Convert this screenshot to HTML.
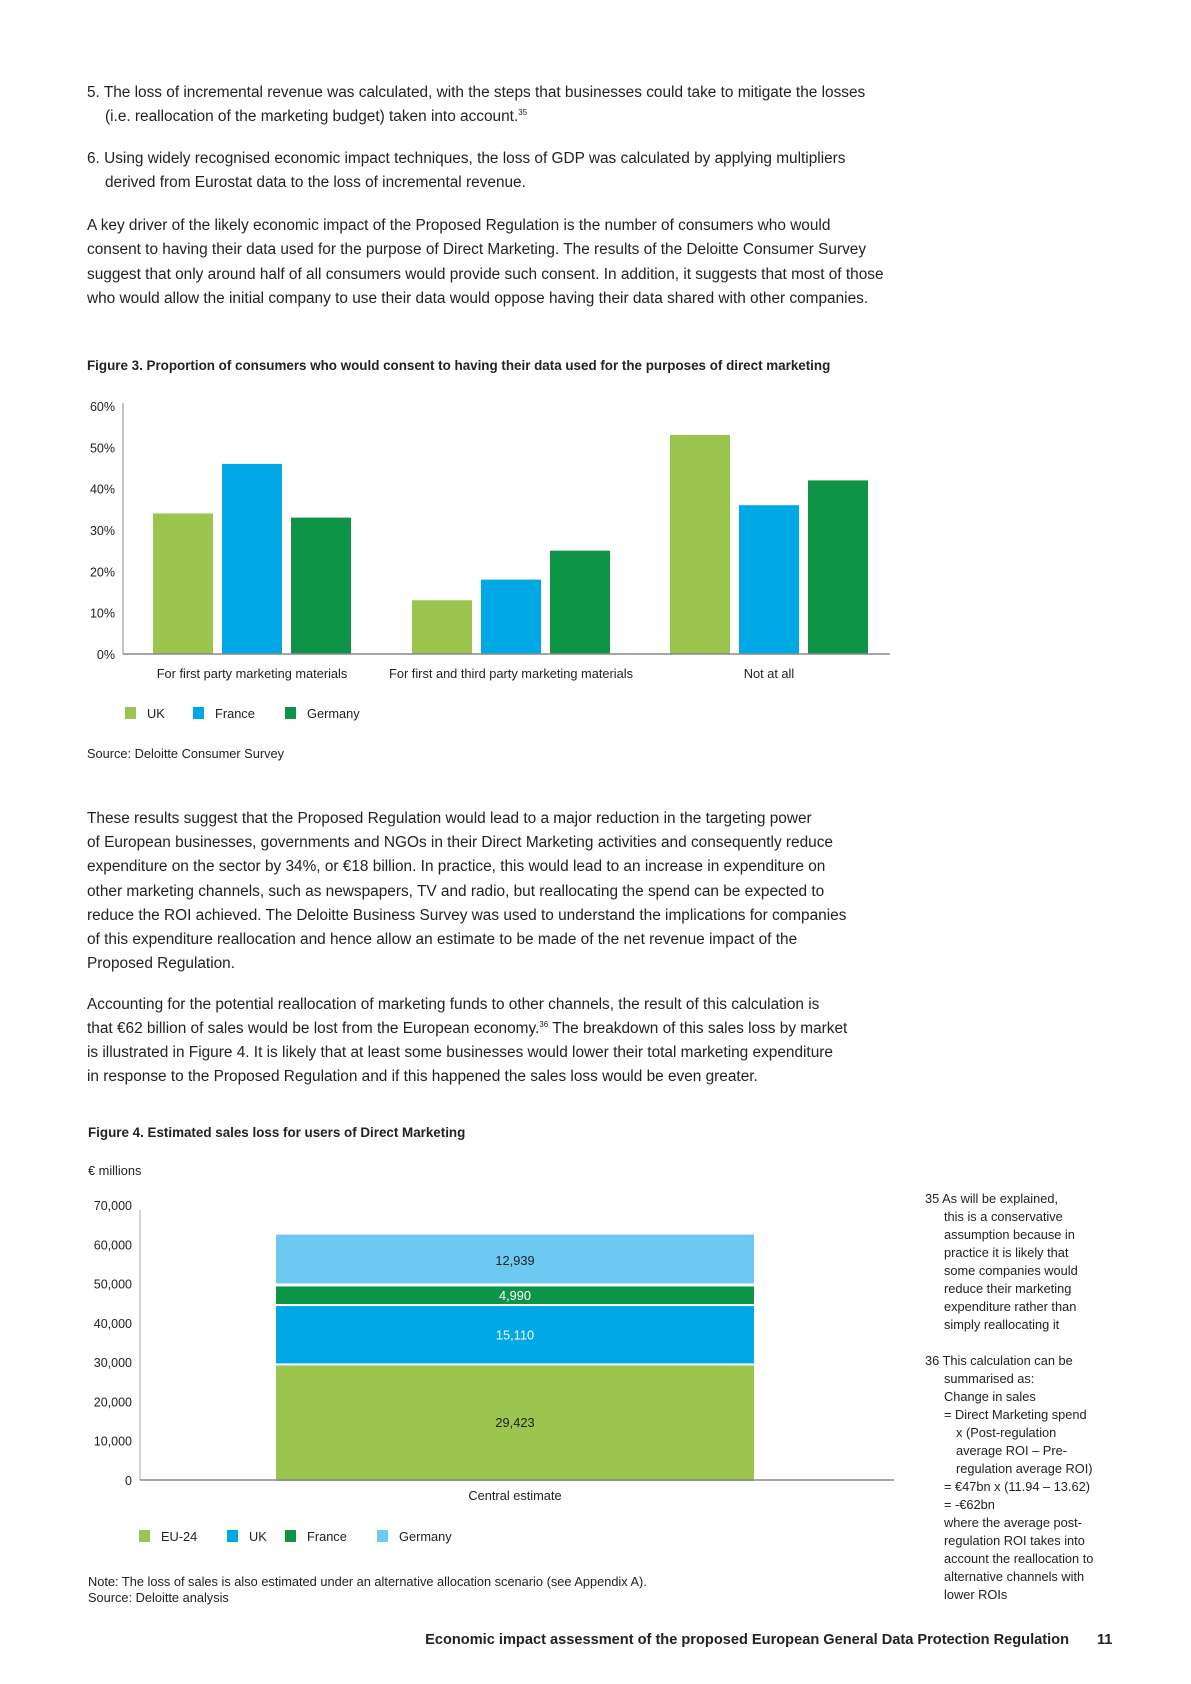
<!DOCTYPE html>
<html><head><meta charset="utf-8">
<style>
body{margin:0;background:#fff;}
#page{position:relative;width:1191px;height:1684px;overflow:hidden;font-family:"Liberation Sans",sans-serif;color:#222;}
.l{position:absolute;white-space:nowrap;font-size:15.4px;line-height:18px;}
.b{font-weight:bold;font-size:13.4px;}
.fn{position:absolute;white-space:nowrap;font-size:12.8px;line-height:18px;}
sup{font-size:8px;line-height:0;vertical-align:6px;}
svg text{font-family:"Liberation Sans",sans-serif;}
</style></head>
<body>
<div id="page">
<div>
<div class="l" style="left:87px;top:84px">5. The loss of incremental revenue was calculated, with the steps that businesses could take to mitigate the losses</div>
<div class="l" style="left:105px;top:108px">(i.e. reallocation of the marketing budget) taken into account.<sup>35</sup></div>
<div class="l" style="left:87px;top:150px">6. Using widely recognised economic impact techniques, the loss of GDP was calculated by applying multipliers</div>
<div class="l" style="left:105px;top:174px">derived from Eurostat data to the loss of incremental revenue.</div>
<div class="l" style="left:87px;top:217px">A key driver of the likely economic impact of the Proposed Regulation is the number of consumers who would</div>
<div class="l" style="left:87px;top:241px">consent to having their data used for the purpose of Direct Marketing. The results of the Deloitte Consumer Survey</div>
<div class="l" style="left:87px;top:266px">suggest that only around half of all consumers would provide such consent. In addition, it suggests that most of those</div>
<div class="l" style="left:87px;top:290px">who would allow the initial company to use their data would oppose having their data shared with other companies.</div>
</div>
<div class="l b" style="left:87px;top:357px">Figure 3. Proportion of consumers who would consent to having their data used for the purposes of direct marketing</div>

<svg id="fig3" style="position:absolute;left:0;top:0" width="1191" height="800"></svg>

<div class="l" style="left:87px;top:745px;font-size:12.8px">Source: Deloitte Consumer Survey</div>

<div>
<div class="l" style="left:87px;top:810px">These results suggest that the Proposed Regulation would lead to a major reduction in the targeting power</div>
<div class="l" style="left:87px;top:834px">of European businesses, governments and NGOs in their Direct Marketing activities and consequently reduce</div>
<div class="l" style="left:87px;top:858px">expenditure on the sector by 34%, or €18 billion. In practice, this would lead to an increase in expenditure on</div>
<div class="l" style="left:87px;top:883px">other marketing channels, such as newspapers, TV and radio, but reallocating the spend can be expected to</div>
<div class="l" style="left:87px;top:907px">reduce the ROI achieved. The Deloitte Business Survey was used to understand the implications for companies</div>
<div class="l" style="left:87px;top:931px">of this expenditure reallocation and hence allow an estimate to be made of the net revenue impact of the</div>
<div class="l" style="left:87px;top:955px">Proposed Regulation.</div>
<div class="l" style="left:87px;top:996px">Accounting for the potential reallocation of marketing funds to other channels, the result of this calculation is</div>
<div class="l" style="left:87px;top:1020px">that €62 billion of sales would be lost from the European economy.<sup>36</sup> The breakdown of this sales loss by market</div>
<div class="l" style="left:87px;top:1044px">is illustrated in Figure 4. It is likely that at least some businesses would lower their total marketing expenditure</div>
<div class="l" style="left:87px;top:1068px">in response to the Proposed Regulation and if this happened the sales loss would be even greater.</div>
</div>
<div class="l b" style="left:88px;top:1124px">Figure 4. Estimated sales loss for users of Direct Marketing</div>
<div class="l" style="left:88px;top:1162px;font-size:12.8px">€ millions</div>

<svg id="fig4" style="position:absolute;left:0;top:0" width="1191" height="1684"></svg>

<div class="l" style="left:88px;top:1574px;font-size:12.8px;line-height:16px">Note: The loss of sales is also estimated under an alternative allocation scenario (see Appendix A).<br>Source: Deloitte analysis</div>

<div>
<div class="fn" style="left:925px;top:1190px">35 As will be explained,</div>
<div class="fn" style="left:944px;top:1208px">this is a conservative</div>
<div class="fn" style="left:944px;top:1226px">assumption because in</div>
<div class="fn" style="left:944px;top:1244px">practice it is likely that</div>
<div class="fn" style="left:944px;top:1262px">some companies would</div>
<div class="fn" style="left:944px;top:1280px">reduce their marketing</div>
<div class="fn" style="left:944px;top:1298px">expenditure rather than</div>
<div class="fn" style="left:944px;top:1316px">simply reallocating it</div>
<div class="fn" style="left:925px;top:1352px">36 This calculation can be</div>
<div class="fn" style="left:944px;top:1370px">summarised as:</div>
<div class="fn" style="left:944px;top:1388px">Change in sales</div>
<div class="fn" style="left:944px;top:1406px">= Direct Marketing spend</div>
<div class="fn" style="left:956px;top:1424px">x (Post-regulation</div>
<div class="fn" style="left:956px;top:1442px">average ROI – Pre-</div>
<div class="fn" style="left:956px;top:1460px">regulation average ROI)</div>
<div class="fn" style="left:944px;top:1478px">= €47bn x (11.94 – 13.62)</div>
<div class="fn" style="left:944px;top:1496px">= -€62bn</div>
<div class="fn" style="left:944px;top:1514px">where the average post-</div>
<div class="fn" style="left:944px;top:1532px">regulation ROI takes into</div>
<div class="fn" style="left:944px;top:1550px">account the reallocation to</div>
<div class="fn" style="left:944px;top:1568px">alternative channels with</div>
<div class="fn" style="left:944px;top:1586px">lower ROIs</div>
</div>
<div class="l" style="right:122px;top:1631px;font-weight:bold;font-size:14.6px">Economic impact assessment of the proposed European General Data Protection Regulation</div>
<div class="l" style="left:1097px;top:1631px;font-weight:bold;font-size:14.6px">11</div>
</div>

<script>
// Figure 3 data
const f3Categories = ["For first party marketing materials","For first and third party marketing materials","Not at all"];
const f3Series = ["UK","France","Germany"];
const f3UK = [34, 13, 53];
const f3France = [46, 18, 36];
const f3Germany = [33, 25, 42];
const f3Ticks = ["0%","10%","20%","30%","40%","50%","60%"];
// Figure 4 data
const f4Category = ["Central estimate"];
const f4Series = ["EU-24","UK","France","Germany"];
const f4Values = [29423, 15110, 4990, 12939];
const f4Labels = ["29,423","15,110","4,990","12,939"];
const f4Ticks = ["0","10,000","20,000","30,000","40,000","50,000","60,000","70,000"];

const NS="http://www.w3.org/2000/svg";
function mk(svg,tag,attrs,txt){const e=document.createElementNS(NS,tag);for(const k in attrs)e.setAttribute(k,attrs[k]);if(txt!==undefined)e.textContent=txt;svg.appendChild(e);return e;}

// ---- Figure 3 ----
(function(){
 const svg=document.getElementById('fig3');
 const x0=123,x1=890,yb=654,yt=406,max=60;
 const y=v=>yb-(v/max)*(yb-yt);
 const colors=["#9bc54e","#00a9e6","#0e9446"];
 const data=[f3UK,f3France,f3Germany];
 const gc=[252,511,769], bw=60, step=69;
 f3Ticks.forEach((t,i)=>{const v=i*10;
  const e=mk(svg,'text',{x:115,y:y(v)+5,'text-anchor':'end','font-size':12.5,fill:'#222'},t);
  
  });
 f3Categories.forEach((c,ci)=>{
  data.forEach((s,si)=>{
   const cx=gc[ci]+(si-1)*step;
   const r=mk(svg,'rect',{x:cx-bw/2,y:y(s[ci]),width:bw,height:yb-y(s[ci]),fill:colors[si]});
   
   
  });
  const t=mk(svg,'text',{x:gc[ci],y:678,'text-anchor':'middle','font-size':12.8,fill:'#222'},c);
  
  
 });
 const ax=mk(svg,'line',{x1:x0,y1:yt-3,x2:x0,y2:yb,stroke:'#888','stroke-width':1});
 
 
 const bx=mk(svg,'line',{x1:x0,y1:yb,x2:x1,y2:yb,stroke:'#888','stroke-width':1.5});
 
 
 const lx=[125,193,285];
 f3Series.forEach((s,i)=>{
  const r=mk(svg,'rect',{x:lx[i],y:707,width:11,height:12,fill:colors[i]});
  
  
  const t=mk(svg,'text',{x:lx[i]+22,y:718,'font-size':12.8,fill:'#222'},s);
  
  
 });
})();

// ---- Figure 4 ----
(function(){
 const svg=document.getElementById('fig4');
 const x0=140,x1=894,yb=1480,yt=1205,max=70000;
 const y=v=>yb-(v/max)*(yb-yt);
 const colors=["#9bc54e","#00a9e6","#0e9446","#6dc8f2"];
 const txtCol=["#222","#fff","#fff","#222"];
 const bx0=276,bx1=754;
 f4Ticks.forEach((t,i)=>{const v=i*10000;
  const e=mk(svg,'text',{x:132,y:y(v)+5,'text-anchor':'end','font-size':12.5,fill:'#222'},t);
  
  });
 let acc=0;
 f4Values.forEach((v,i)=>{
  const top=y(acc+v), bot=y(acc);
  const r=mk(svg,'rect',{x:bx0,y:top+(i<3?1:0),width:bx1-bx0,height:bot-top-(i>0?2:0),fill:colors[i]});
  
  
  const t=mk(svg,'text',{x:(bx0+bx1)/2,y:(top+bot)/2+5,'text-anchor':'middle','font-size':12.8,fill:txtCol[i]},f4Labels[i]);
  
  
  acc+=v;
 });
 const ax=mk(svg,'line',{x1:x0,y1:yt+5,x2:x0,y2:yb,stroke:'#aaa','stroke-width':1});
 
 
 const xa=mk(svg,'line',{x1:x0,y1:yb,x2:x1,y2:yb,stroke:'#888','stroke-width':1.5});
 
 
 const c=mk(svg,'text',{x:(bx0+bx1)/2,y:1500,'text-anchor':'middle','font-size':12.8,fill:'#222'},f4Category[0]);
 
 
 const lx=[139,227,285,377];
 f4Series.forEach((s,i)=>{
  const r=mk(svg,'rect',{x:lx[i],y:1530,width:11,height:12,fill:colors[i]});
  
  
  const t=mk(svg,'text',{x:lx[i]+22,y:1541,'font-size':12.8,fill:'#222'},s);
  
  
 });
})();
</script>
</body></html>
